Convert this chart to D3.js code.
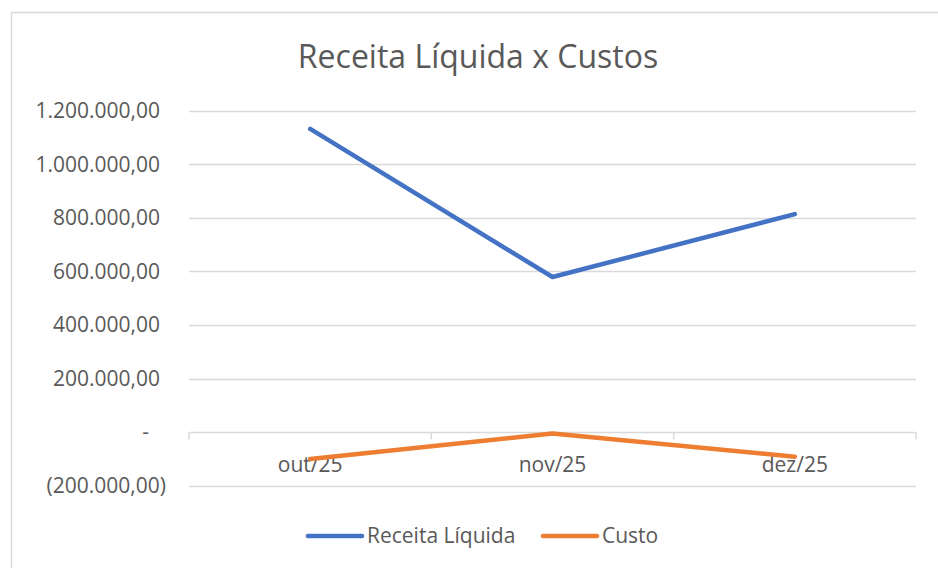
<!DOCTYPE html>
<html>
<head>
<meta charset="utf-8">
<script src="https://cdn.jsdelivr.net/npm/d3@7"></script>
<style>
  body { margin: 0; background: #fff; }
  svg { display: block; }
</style>
</head>
<body>
<div class="canvas"></div>
<script>
const width = 938
const height = 568

// data
const months = ["out/25", "nov/25", "dez/25"]
const receita = [1132000, 579000, 814000]
const custo = [-100000, -5000, -92000]
const yTicks = [-200000, 0, 200000, 400000, 600000, 800000, 1000000, 1200000]
const seriesNames = ["Receita Líquida", "Custo"]
const colors = ["#4472C4", "#ED7D31"]

const font = "'Open Sans', 'Liberation Sans', sans-serif"
const textColor = "#595959"
const labelSize = 21

const svg = d3.select(".canvas")
    .append("svg")
    .attr("width", width)
    .attr("height", height)

// chart frame (runs off right and bottom edges)
svg.append("rect")
    .attr("x", 11.5)
    .attr("y", 12.5)
    .attr("width", 960)
    .attr("height", 600)
    .attr("fill", "#fff")
    .attr("stroke", "#d9d9d9")
    .attr("stroke-width", 1.5)

svg.append("text")
    .attr("x", 478)
    .attr("y", 68)
    .attr("text-anchor", "middle")
    .attr("font-family", font)
    .attr("font-size", 32)
    .attr("fill", textColor)
    .text("Receita Líquida x Custos")

const x = d3.scaleBand()
    .domain(months)
    .range([189, 916])

const y = d3.scaleLinear()
    .domain([-200000, 1200000])
    .range([485.7, 110.7])

// accounting style pt-BR format
const fmtNum = d3.formatLocale({decimal: ",", thousands: ".", grouping: [3], currency: ["R$", ""]}).format(",.2f")
const fmt = v => v === 0 ? "-" : v < 0 ? "(" + fmtNum(-v) + ")" : fmtNum(v)

// gridlines
svg.append("g")
    .selectAll("line")
    .data(yTicks.filter(d => d !== 0))
    .join("line")
    .attr("x1", 189)
    .attr("x2", 916)
    .attr("y1", d => Math.round(y(d)) + 0.5)
    .attr("y2", d => Math.round(y(d)) + 0.5)
    .attr("stroke", "#d9d9d9")
    .attr("stroke-width", 1.5)

// y labels
svg.append("g")
    .selectAll("text")
    .data(yTicks)
    .join("text")
    .attr("x", d => d < 0 ? 166 : d === 0 ? 149 : 160)
    .attr("y", d => y(d))
    .attr("dy", "0.35em")
    .attr("text-anchor", "end")
    .attr("font-family", font)
    .attr("font-size", labelSize)
    .attr("fill", textColor)
    .text(fmt)

// x axis at zero
const xAxis = svg.append("g")
    .attr("transform", `translate(0,${Math.round(y(0)) + 0.5})`)
    .call(d3.axisBottom(x).tickSize(0).tickFormat(""))
xAxis.select(".domain").remove()
xAxis.append("line")
    .attr("x1", 189).attr("x2", 916)
    .attr("stroke", "#d9d9d9").attr("stroke-width", 1.5)
xAxis.selectAll(".bound")
    .data([189, 431.3, 673.7, 916])
    .join("line")
    .attr("class", "bound")
    .attr("x1", d => d).attr("x2", d => d)
    .attr("y1", 0).attr("y2", 7)
    .attr("stroke", "#d9d9d9").attr("stroke-width", 1.5)

svg.append("g")
    .selectAll("text")
    .data(months)
    .join("text")
    .attr("x", d => x(d) + x.bandwidth() / 2)
    .attr("y", 472)
    .attr("text-anchor", "middle")
    .attr("font-family", font)
    .attr("font-size", labelSize)
    .attr("fill", textColor)
    .text(d => d)

// lines
const line = d3.line()
    .x((d, i) => x(months[i]) + x.bandwidth() / 2)
    .y(d => y(d))

const series = [receita, custo]
svg.append("g")
    .selectAll("path")
    .data(series)
    .join("path")
    .attr("d", line)
    .attr("fill", "none")
    .attr("stroke", (d, i) => colors[i])
    .attr("stroke-width", 4.5)
    .attr("stroke-linecap", "round")
    .attr("stroke-linejoin", "round")

// legend
const legendX = [308, 543]
const legend = svg.append("g")
    .selectAll("g")
    .data(seriesNames)
    .join("g")
    .attr("transform", (d, i) => `translate(${legendX[i]},536)`)
legend.append("line")
    .attr("x1", 0).attr("x2", 54)
    .attr("stroke", (d, i) => colors[i])
    .attr("stroke-width", 4.5)
    .attr("stroke-linecap", "round")
legend.append("text")
    .attr("x", 59)
    .attr("dy", "0.35em")
    .attr("font-family", font)
    .attr("font-size", labelSize)
    .attr("fill", textColor)
    .text(d => d)
</script>
</body>
</html>
